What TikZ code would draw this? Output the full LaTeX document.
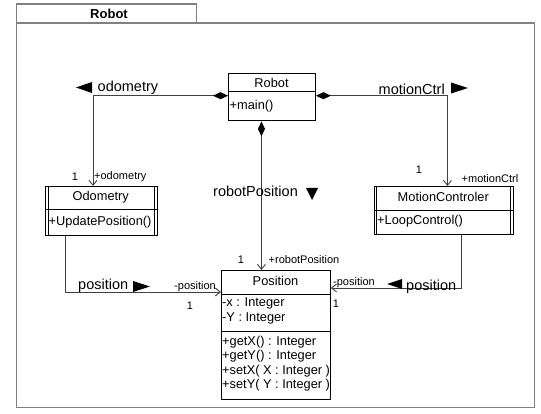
\documentclass[tikz,border=0pt]{standalone}
\usepackage{fontspec}
\setmainfont{Liberation Sans}
\usetikzlibrary{arrows.meta}
\begin{document}
\begin{tikzpicture}[x=1pt,y=-1pt,
  frame/.style={draw=black!50,line width=1.4pt,inner sep=0pt},
  cls/.style={draw=black,line width=0.9pt,fill=white,inner sep=0pt,anchor=north west},
  cline/.style={draw=black,line width=0.9pt},
  ctext/.style={inner sep=0pt,font=\fontsize{12.8}{14}\selectfont},
  aname/.style={inner sep=0pt,font=\fontsize{14.5}{16}\selectfont},
  role/.style={inner sep=0pt,font=\fontsize{11}{12}\selectfont},
  conn/.style={draw=black!75,line width=0.9pt},
  nav/.style={-{Straight Barb[length=5pt,width=8pt]}},
  assoc/.style={{Diamond[length=15pt,width=7pt,color=black,fill=black]}-{Straight Barb[length=5pt,width=8pt]}},
  tri/.style={fill=black}
]
\useasboundingbox (0,0) rectangle (541,414);
\fill[white] (0,0) rectangle (541,414);

% package frame
\node[frame,anchor=north west,minimum width=518pt,minimum height=384.5pt] (pkg) at (15.5,22.5) {};
\node[frame,anchor=north west,minimum width=180.5pt,minimum height=19pt] (tab) at (15.5,3.5) {};
\node[inner sep=0pt,font=\fontsize{13}{15}\selectfont\bfseries] (tabname) at (109,13.5) {Robot};

% classes
\node[cls,minimum width=87pt,minimum height=47.5pt] (robot) at (228,73) {};
\draw[cline] (228,91.5) -- (315,91.5);
\node[ctext] (robotname) at (271.5,83) {Robot};
\node[ctext,anchor=west] (robotop) at (229.5,106) {+main()};

\node[cls,minimum width=111.5pt,minimum height=49pt] (odo) at (45,186) {};
\draw[cline] (45,209) -- (156.5,209);
\draw[cline] ([xshift=3pt]odo.north west) -- ([xshift=3pt]odo.south west);
\draw[cline] ([xshift=-3pt]odo.north east) -- ([xshift=-3pt]odo.south east);
\node[ctext] (odoname) at (100.75,197) {Odometry};
\node[ctext,anchor=west] (odoop) at (48.5,222) {+UpdatePosition()};

\node[cls,minimum width=139.5pt,minimum height=48pt] (mc) at (373.5,186) {};
\draw[cline] (373.5,210) -- (513,210);
\draw[cline] ([xshift=3pt]mc.north west) -- ([xshift=3pt]mc.south west);
\draw[cline] ([xshift=-3pt]mc.north east) -- ([xshift=-3pt]mc.south east);
\node[ctext] (mcname) at (443.25,197) {MotionControler};
\node[ctext,anchor=west] (mcop) at (377,221) {+LoopControl()};

\node[cls,minimum width=109pt,minimum height=129pt] (pos) at (221,270) {};
\draw[cline] (221,294.5) -- (330,294.5);
\draw[cline] (221,331.5) -- (330,331.5);
\node[ctext] (posname) at (275.5,281) {Position};
\node[ctext,anchor=west] (pa1) at (222,303.5) {-x : Integer};
\node[ctext,anchor=west] (pa2) at (222,318.5) {-Y : Integer};
\node[ctext,anchor=west] (pm1) at (222,342) {+getX() : Integer};
\node[ctext,anchor=west] (pm2) at (222,356.5) {+getY() : Integer};
\node[ctext,anchor=west] (pm3) at (222,371) {+setX( X : Integer )};
\node[ctext,anchor=west] (pm4) at (222,385.5) {+setY( Y : Integer )};

% connector end points on the boxes
\path ([yshift=1.5pt]robot.west) coordinate (rw)
      ([yshift=1.5pt]robot.east) coordinate (re)
      ([xshift=-10.5pt]robot.south) coordinate (rs)
      ([xshift=-8.25pt]odo.north) coordinate (on)
      ([xshift=3.75pt]mc.north) coordinate (mn)
      ([xshift=-35.75pt]odo.south) coordinate (os)
      ([xshift=17.75pt]mc.south) coordinate (ms)
      ([yshift=-22pt]pos.north west) coordinate (pw)
      ([yshift=-18pt]pos.north east) coordinate (pe);

\draw[conn,assoc] (rw) -| (on);
\draw[conn,assoc] (re) -| (mn);
\draw[conn,assoc] (rs) -- (rs |- pos.north);
\draw[conn,nav] (os) |- (pw);
\draw[conn,nav] (ms) |- (pe);

% association names and direction triangles
\node[aname,anchor=west] (lodo) at (97.5,88) {odometry};
\fill[tri] (76,87.5) -- (92,82) -- (92,93) -- cycle;
\node[aname,anchor=east] (lmc) at (445,89) {motionCtrl};
\fill[tri] (468,88) -- (451,82.5) -- (451,93.5) -- cycle;
\node[aname,anchor=west] (lrp) at (213,191.5) {robotPosition};
\fill[tri] (306,188) -- (318,188) -- (312,200) -- cycle;
\node[aname,anchor=west] (lpl) at (78,286) {position};
\fill[tri] (150,286.5) -- (133,281) -- (133,292) -- cycle;
\node[aname,anchor=west] (lpr) at (406,286.5) {position};
\fill[tri] (387,284) -- (402,279) -- (402,289) -- cycle;

% role names and multiplicities
\node[role] (m1) at (75,177) {1};
\node[role,anchor=west] (r1) at (94,177) {+odometry};
\node[role] (m2) at (419,170) {1};
\node[role,anchor=west] (r2) at (461.5,179) {+motionCtrl};
\node[role] (m3) at (241,260) {1};
\node[role,anchor=west] (r3) at (268.5,260) {+robotPosition};
\node[role,anchor=east] (r4) at (216,286.5) {-position};
\node[role] (m4) at (190,306) {1};
\node[role,anchor=west] (r5) at (333,283) {-position};
\node[role] (m5) at (336,304) {1};
\end{tikzpicture}
\end{document}
